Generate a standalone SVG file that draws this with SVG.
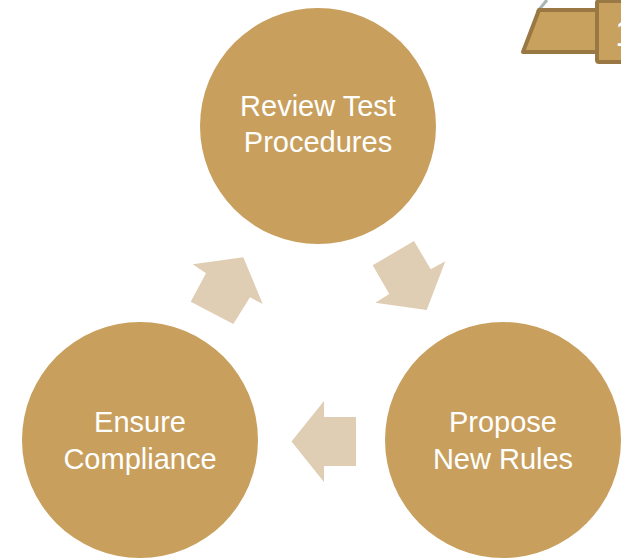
<svg xmlns="http://www.w3.org/2000/svg" width="621" height="560" viewBox="0 0 621 560">
<style>
.node{fill:#c89f5d}
.lbl{font-family:"Liberation Sans",Arial,sans-serif;font-size:29px;fill:#ffffff;text-anchor:middle}
.arrow{fill:#dfcdb4}
</style>
<rect width="621" height="560" fill="#ffffff"/>
<g id="corner">
<line x1="547" y1="0" x2="537" y2="12" stroke="#a9b5b5" stroke-width="3"/>
<polygon points="539,10 600,10 600,52 523,52" fill="#c9a15e" stroke="#9a7843" stroke-width="4" stroke-linejoin="round"/>
<rect x="597" y="1" width="40" height="61" rx="2" fill="#c9a15e" stroke="#9a7843" stroke-width="4"/>
<text x="615" y="46" font-family="Liberation Sans,Arial,sans-serif" font-size="36" fill="#ffffff">1</text>
</g>
<g id="connectors">
<polygon class="arrow" points="243.3,257.3 262.7,304 250,297.3 233.3,324 190.7,301.7 206,273.3 192.7,264.3"/>
<polygon class="arrow" points="372.7,265.3 414,241 430.7,269.3 445.3,261.3 426.7,310 375.3,302.7 389.3,294"/>
<polygon class="arrow" points="291.5,441.5 324,401 324,417 356,417 356,466 324,466 324,482"/>
</g>
<g id="review">
<circle class="node" cx="318" cy="126" r="118"/>
<text class="lbl" x="318" y="116">Review Test</text>
<text class="lbl" x="318" y="152">Procedures</text>
</g>
<g id="propose">
<circle class="node" cx="503" cy="440" r="118"/>
<text class="lbl" x="503" y="432">Propose</text>
<text class="lbl" x="503" y="469">New Rules</text>
</g>
<g id="ensure">
<circle class="node" cx="140" cy="440" r="118"/>
<text class="lbl" x="140" y="432">Ensure</text>
<text class="lbl" x="140" y="469">Compliance</text>
</g>
</svg>
